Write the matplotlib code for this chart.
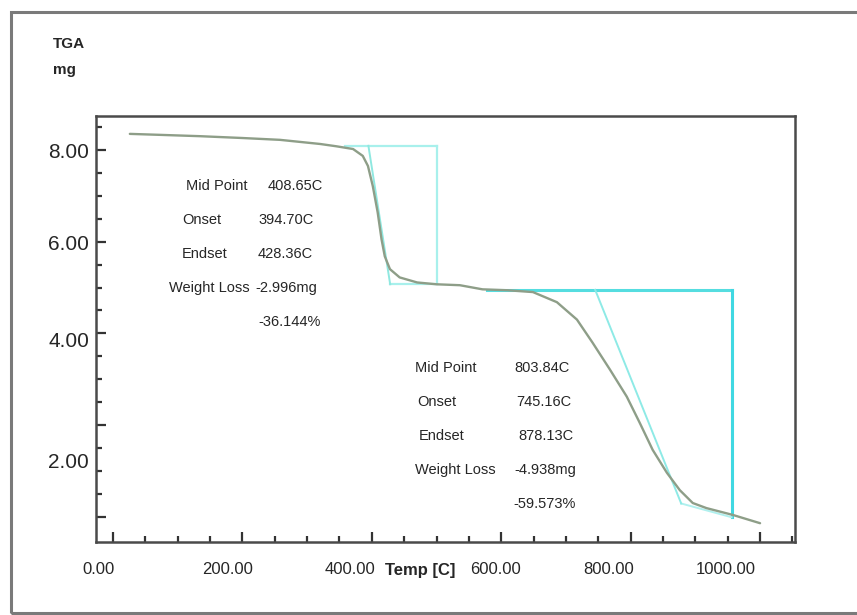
import matplotlib
matplotlib.use("Agg")
import matplotlib.pyplot as plt
from matplotlib.transforms import ScaledTranslation, blended_transform_factory
from matplotlib.patches import Rectangle

# TGA trace, temperature in C and sample mass in mg
temp_c = [26, 70, 134, 200, 258, 320, 345, 371, 386, 394, 401.5, 409, 415, 420,
          428, 443, 470, 500, 536, 571, 610, 649, 686, 717, 741, 768, 794,
          814, 834, 856, 876, 896, 917, 958, 1000]
mass_mg = [8.35, 8.33, 8.30, 8.26, 8.22, 8.13, 8.08, 8.02, 7.87, 7.65, 7.21,
           6.64, 6.05, 5.68, 5.40, 5.22, 5.11, 5.07, 5.05, 4.96, 4.94, 4.90,
           4.68, 4.30, 3.80, 3.21, 2.62, 2.05, 1.46, 0.96, 0.58, 0.30, 0.19,
           0.04, -0.14]

# step analysis: baseline start, onset, endset, step marker temperature
step1_t = [358, 394.70, 428.36, 500]
step1_m = [8.09, 8.09, 5.07, 5.07]
step2_t = [578, 745.16, 878.13, 956]
step2_m = [4.95, 4.95, 0.29, -0.01]

step1_rows = [("Mid Point", "408.65C"), ("Onset", "394.70C"), ("Endset", "428.36C"),
              ("Weight Loss", "-2.996mg"), ("", "-36.144%")]
step2_rows = [("Mid Point", "803.84C"), ("Onset", "745.16C"), ("Endset", "878.13C"),
              ("Weight Loss", "-4.938mg"), ("", "-59.573%")]

x_ticks = [0, 200, 400, 600, 800, 1000]
x_tick_labels = ["0.00", "200.00", "400.00", "600.00", "800.00", "1000.00"]
y_ticks = [8, 6, 4, 2]
y_tick_labels = ["8.00", "6.00", "4.00", "2.00"]

plt.rcParams["font.family"] = ["Liberation Sans", "DejaVu Sans"]
INK = "#262626"
W, H = 857, 615

fig = plt.figure(figsize=(W / 100, H / 100), dpi=100)
fig.patches.append(Rectangle((11 / W, 2 / H), 1.05, 1 - 14 / H, transform=fig.transFigure,
                             fill=False, ec="#7a7a7a", lw=2.2))

ax = fig.add_axes([96 / W, 1 - 542 / H, (795 - 96) / W, (542 - 116) / H])
ax.set_xlim(-26.3, 1054)
ax.set_ylim(-0.55, 8.74)
for s in ax.spines.values():
    s.set_color("#4a4a4a")
    s.set_linewidth(1.8)

# analysis lines under the trace
ax.plot([step1_t[0], step1_t[3]], [step1_m[0], step1_m[0]], color="#a8f0ec", lw=1.6)
ax.plot([step1_t[3], step1_t[3]], [step1_m[0], step1_m[3]], color="#a8f0ec", lw=1.6)
ax.plot([step1_t[2], step1_t[3]], [step1_m[3], step1_m[3]], color="#a8f0ec", lw=1.6)
ax.plot([step1_t[1], step1_t[2]], [step1_m[1], step1_m[2]], color="#8fe8e0", lw=1.4)

ax.plot([step2_t[0], step2_t[3]], [step2_m[0], step2_m[0]], color="#55dde0", lw=2.2)
ax.plot([step2_t[3], step2_t[3]], [step2_m[0], step2_m[3]], color="#40d8e2", lw=2.2)
ax.plot([step2_t[2], step2_t[3]], [step2_m[2], step2_m[3]], color="#b0f0ee", lw=1.4)
ax.plot([step2_t[1], step2_t[2]], [step2_m[1], step2_m[2]], color="#8eeae6", lw=1.4)

ax.plot(temp_c, mass_mg, color="#8e9e88", lw=1.7, solid_capstyle="round",
        solid_joinstyle="round")

# ticks point inwards, labels sit where the instrument software put them
ax.set_xticks(range(0, 1001, 200))
ax.set_xticks(range(0, 1051, 50), minor=True)
ax.set_yticks([0, 2, 4, 6, 8])
ax.set_yticks([v / 2 for v in range(0, 18)], minor=True)
ax.tick_params(which="both", direction="in", color="#333333", width=1.6,
               labelbottom=False, labelleft=False)
ax.tick_params(which="major", length=7)
ax.tick_params(which="minor", length=4)

xshift = [-15, -15, -22, -6, -22, -34]
xtr = blended_transform_factory(ax.transData, ax.transAxes)
for v, lab, dx in zip(x_ticks, x_tick_labels, xshift):
    ax.text(v, 0, lab, transform=xtr + ScaledTranslation(dx / 100, -28 / 100, fig.dpi_scale_trans),
            ha="center", va="center", fontsize=12, color=INK)

yshift = [3, 3, 8, 37]
ytr = blended_transform_factory(ax.transAxes, ax.transData)
for v, lab, dy in zip(y_ticks, y_tick_labels, yshift):
    ax.text(0, v, lab, transform=ytr + ScaledTranslation(-7 / 100, -dy / 100, fig.dpi_scale_trans),
            ha="right", va="center", fontsize=15, color=INK)

ax.set_xlabel("Temp [C]", fontsize=12, color=INK, fontweight="bold")
ax.xaxis.set_label_coords((420 - 96) / (795 - 96), (542 - 570) / (542 - 116))
ax.xaxis.label.set_va("center")

fig.text(53 / W, 1 - 44 / H, "TGA", fontsize=11, fontweight="bold", color=INK, va="center")
fig.text(53 / W, 1 - 70 / H, "mg", fontsize=11, fontweight="bold", color=INK, va="center")


def step_block(rows, lab_x, val_x, top_y, dy):
    for i, (lab, val) in enumerate(rows):
        y = 1 - (top_y + i * dy) / H
        if lab:
            fig.text(lab_x[i] / W, y, lab, fontsize=10.5, color=INK, va="center", ha="center")
        fig.text(val_x[i] / W, y, val, fontsize=10.5, color=INK, va="center", ha="center")


step_block(step1_rows, [217, 202, 205, 209], [295, 286, 285, 286, 290], 186, 34)
step_block(step2_rows, [446, 437, 442, 455], [542, 544, 546, 545, 545], 368, 34)

fig.savefig("out.png", dpi=100)
